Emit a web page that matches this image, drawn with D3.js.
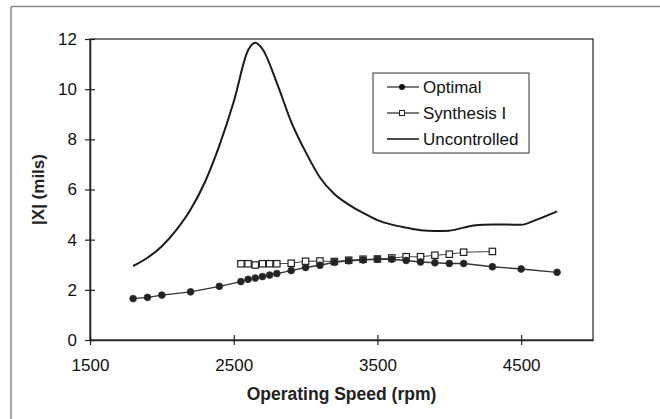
<!DOCTYPE html>
<html>
<head>
<meta charset="utf-8">
<script src="https://cdn.jsdelivr.net/npm/d3@7"></script>
<style>
  body { margin: 0; background: #fff; }
  svg { font-family: "Liberation Sans", Arial, sans-serif; }
</style>
</head>
<body>
<svg id="drawing_region"></svg>
<script>
// values
const optimalSpeed = [1800, 1900, 2000, 2200, 2400, 2550, 2600, 2650, 2700, 2750, 2800, 2900, 3000, 3100,
                      3200, 3300, 3400, 3500, 3600, 3700, 3800, 3900, 4000, 4100, 4300, 4500, 4750];
const optimalX = [1.65, 1.70, 1.79, 1.92, 2.14, 2.33, 2.42, 2.47, 2.53, 2.59, 2.65, 2.77, 2.89, 2.98,
                  3.10, 3.16, 3.19, 3.22, 3.22, 3.17, 3.11, 3.08, 3.05, 3.05, 2.92, 2.83, 2.70];

const synthSpeed = [2550, 2600, 2650, 2700, 2750, 2800, 2900, 3000, 3100, 3200, 3300, 3400, 3500, 3600,
                    3700, 3800, 3900, 4000, 4100, 4300];
const synthX = [3.04, 3.04, 2.99, 3.04, 3.04, 3.04, 3.06, 3.14, 3.15, 3.13, 3.18, 3.22, 3.23, 3.27,
                3.32, 3.32, 3.38, 3.42, 3.50, 3.53];

const uncSpeed = [1800, 1900, 2000, 2100, 2200, 2300, 2400, 2500, 2600, 2650, 2700, 2800, 2900, 3000,
                  3100, 3200, 3300, 3400, 3500, 3600, 3700, 3800, 3900, 4000, 4100, 4200, 4300, 4400,
                  4500, 4600, 4750];
const uncX = [2.95, 3.28, 3.74, 4.38, 5.20, 6.30, 7.75, 9.50, 11.55, 11.85, 11.60, 10.25, 8.70, 7.50,
              6.48, 5.82, 5.40, 5.07, 4.78, 4.60, 4.48, 4.38, 4.35, 4.36, 4.48, 4.58, 4.60, 4.60,
              4.59, 4.78, 5.13];

const xTicks = [1500, 2500, 3500, 4500];
const yTicks = [0, 2, 4, 6, 8, 10, 12];
const legendLabels = ['Optimal', 'Synthesis I', 'Uncontrolled'];

const W = 660, H = 419;
const margin = { left: 90, right: 67, top: 39, bottom: 79 };

const svg = d3.select('#drawing_region').attr('width', W).attr('height', H);

// outer frame (only top and left edges show in the scan)
svg.append('line').attr('x1', 11).attr('y1', 6.5).attr('x2', W).attr('y2', 6.5)
    .attr('stroke', '#8a8a8a').attr('stroke-width', 1.5);
svg.append('line').attr('x1', 11).attr('y1', 6.5).attr('x2', 11).attr('y2', H)
    .attr('stroke', '#8a8a8a').attr('stroke-width', 1.5);

const x = d3.scaleLinear().domain([1500, 5000]).range([margin.left, W - margin.right]);
const y = d3.scaleLinear().domain([0, 12]).range([H - margin.bottom, margin.top]);

const g = svg.append('g');

// plot box
g.append('rect')
    .attr('x', x(1500)).attr('y', y(12))
    .attr('width', x(5000) - x(1500)).attr('height', y(0) - y(12))
    .attr('fill', 'none').attr('stroke', '#333').attr('stroke-width', 1.3);

// axes with ticks crossing the line
const xAxis = g.append('g').attr('transform', `translate(0,${y(0)})`)
    .call(d3.axisBottom(x).tickValues(xTicks).tickFormat(d3.format('d'))
        .tickSize(5).tickSizeOuter(0).tickPadding(14));
xAxis.selectAll('.tick line').attr('y1', -5);
const yAxis = g.append('g').attr('transform', `translate(${x(1500)},0)`)
    .call(d3.axisLeft(y).tickValues(yTicks).tickFormat(d3.format('d'))
        .tickSize(5).tickSizeOuter(0).tickPadding(8));
yAxis.selectAll('.tick line').attr('x1', 5);

[xAxis, yAxis].forEach(a => {
    a.select('.domain').attr('stroke', '#222').attr('stroke-width', 1.5);
    a.selectAll('.tick line').attr('stroke', '#222').attr('stroke-width', 1.2);
    a.selectAll('.tick text').attr('font-size', '17px').attr('fill', '#111')
        .attr('font-family', '"Liberation Sans", Arial, sans-serif');
});

// axis titles
svg.append('text')
    .attr('x', (x(1500) + x(5000)) / 2).attr('y', 400)
    .attr('text-anchor', 'middle').attr('font-size', '17.5px').attr('font-weight', 'bold')
    .attr('fill', '#222').text('Operating Speed (rpm)');
svg.append('text')
    .attr('transform', `translate(44,${(y(0) + y(12)) / 2}) rotate(-90)`)
    .attr('text-anchor', 'middle').attr('font-size', '17px').attr('font-weight', 'bold')
    .attr('fill', '#222').text('|X| (mils)');

const line = d3.line().x(d => x(d[0])).y(d => y(d[1]));

const unc = d3.zip(uncSpeed, uncX);
const opt = d3.zip(optimalSpeed, optimalX);
const syn = d3.zip(synthSpeed, synthX);

g.append('path').datum(unc)
    .attr('d', line.curve(d3.curveMonotoneX))
    .attr('fill', 'none').attr('stroke', '#1a1a1a').attr('stroke-width', 2);

line.curve(d3.curveLinear);

g.append('path').datum(syn).attr('d', line)
    .attr('fill', 'none').attr('stroke', '#444').attr('stroke-width', 1.1);
g.selectAll('.sq').data(syn).enter().append('rect')
    .attr('x', d => x(d[0]) - 3.2).attr('y', d => y(d[1]) - 3.2)
    .attr('width', 6.4).attr('height', 6.4)
    .attr('fill', '#fff').attr('stroke', '#222').attr('stroke-width', 1.2);

g.append('path').datum(opt).attr('d', line)
    .attr('fill', 'none').attr('stroke', '#333').attr('stroke-width', 1.3);
g.selectAll('.dot').data(opt).enter().append('circle')
    .attr('cx', d => x(d[0])).attr('cy', d => y(d[1])).attr('r', 3.4)
    .attr('fill', '#222').attr('stroke', '#333').attr('stroke-width', 0.8);

// legend
const lg = svg.append('g');
lg.append('rect').attr('x', 373).attr('y', 73).attr('width', 156).attr('height', 80)
    .attr('fill', '#fff').attr('stroke', '#555').attr('stroke-width', 1.2);
const rowY = [87, 113, 139];
legendLabels.forEach((lab, i) => {
    const yy = rowY[i];
    lg.append('line').attr('x1', 387).attr('x2', 419).attr('y1', yy).attr('y2', yy)
        .attr('stroke', '#222').attr('stroke-width', i === 2 ? 1.6 : 1.2);
    if (i === 0) {
        lg.append('circle').attr('cx', 402).attr('cy', yy).attr('r', 3).attr('fill', '#111');
    } else if (i === 1) {
        lg.append('rect').attr('x', 399.5).attr('y', yy - 2.5).attr('width', 5).attr('height', 5)
            .attr('fill', '#fff').attr('stroke', '#222').attr('stroke-width', 1);
    }
    lg.append('text').attr('x', 423).attr('y', yy + 6)
        .attr('font-size', '17px').attr('fill', '#111').text(lab);
});
</script>
</body>
</html>
